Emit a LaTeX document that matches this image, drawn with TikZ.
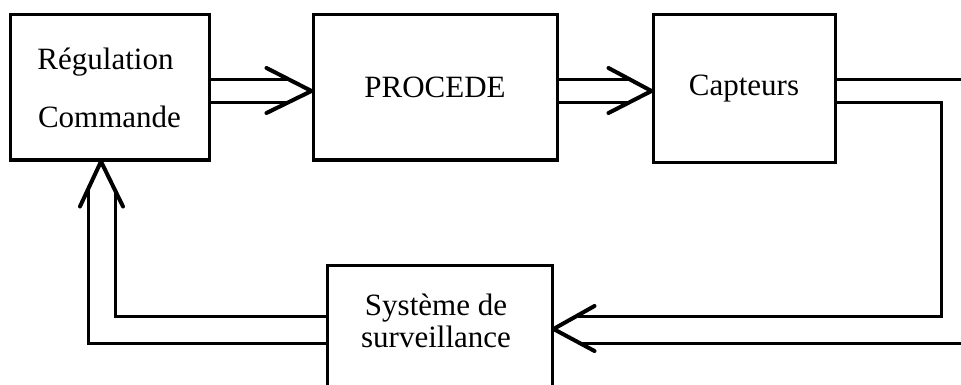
\documentclass[tikz,border=0pt]{standalone}
\usepackage{fontspec}
\setmainfont{Liberation Serif}
\usetikzlibrary{calc}
\begin{document}
\begin{tikzpicture}[x=1pt,y=-1pt,
  box/.style={draw, line width=3pt, inner sep=0pt, align=center,
    font=\fontsize{31}{34}\selectfont},
  lbl/.style={inner sep=0pt, align=center, font=\fontsize{31}{32}\selectfont},
  conn/.style={line width=3pt, line join=miter},
  vtip/.style={line width=4pt, line cap=round, line join=round}]
\useasboundingbox (0,0) rectangle (961,385);
\clip (0,0) rectangle (961,385);
% levels
\coordinate (hA) at (0,80);
\coordinate (hB) at (0,103);
\coordinate (hM) at (0,91);
\coordinate (hC) at (0,316);
\coordinate (hD) at (0,343);
\coordinate (hE) at (0,329);
\coordinate (vR) at (941,0);
\coordinate (edgeR) at (966,0);
\coordinate (vL1) at (88,0);
\coordinate (vL2) at (115,0);
\coordinate (vM) at (101,0);
% boxes
\node[box, minimum width=199pt, minimum height=145pt] (reg) at (109.5,87.5)
  {Régulation\kern8pt\\[24pt]Commande};
\node[box, minimum width=244pt, minimum height=145pt] (proc) at (435,87.5) {PROCEDE};
\node[box, minimum width=182pt, minimum height=147pt] (capt) at (744,88.5) {Capteurs};
\node[box, minimum width=225pt, minimum height=135pt] (surv) at (439.5,332.5) {};
\node[lbl] (survtxt) at (436,321) {Système de\\surveillance};
% reg -> proc
\draw[conn] (reg.east |- hA) -- ($(proc.west |- hA)+(-21,0)$);
\draw[conn] (reg.east |- hB) -- ($(proc.west |- hB)+(-23,0)$);
\draw[vtip] ($(proc.west |- hM)+(-45,-23)$) -- (proc.west |- hM) -- ($(proc.west |- hM)+(-45,22)$);
% proc -> capt
\draw[conn] (proc.east |- hA) -- ($(capt.west |- hA)+(-21,0)$);
\draw[conn] (proc.east |- hB) -- ($(capt.west |- hB)+(-23,0)$);
\draw[vtip] ($(capt.west |- hM)+(-43,-23)$) -- (capt.west |- hM) -- ($(capt.west |- hM)+(-43,22)$);
% capt -> surv
\draw[conn] (capt.east |- hA) -- (edgeR |- hA);
\draw[conn] (capt.east |- hB) -- (vR |- hB) -- (vR |- hC) -- ($(surv.east |- hC)+(24,0)$);
\draw[conn] (edgeR |- hD) -- ($(surv.east |- hD)+(26,0)$);
\draw[vtip] ($(surv.east |- hE)+(41,-23)$) -- (surv.east |- hE) -- ($(surv.east |- hE)+(41,22)$);
% surv -> reg
\draw[conn] (surv.west |- hC) -- (vL2 |- hC) -- ($(vL2 |- reg.south)+(0,28)$);
\draw[conn] (surv.west |- hD) -- (vL1 |- hD) -- ($(vL1 |- reg.south)+(0,28)$);
\draw[vtip] ($(vM |- reg.south)+(-21,45)$) -- (vM |- reg.south) -- ($(vM |- reg.south)+(22,45)$);
\end{tikzpicture}
\end{document}
